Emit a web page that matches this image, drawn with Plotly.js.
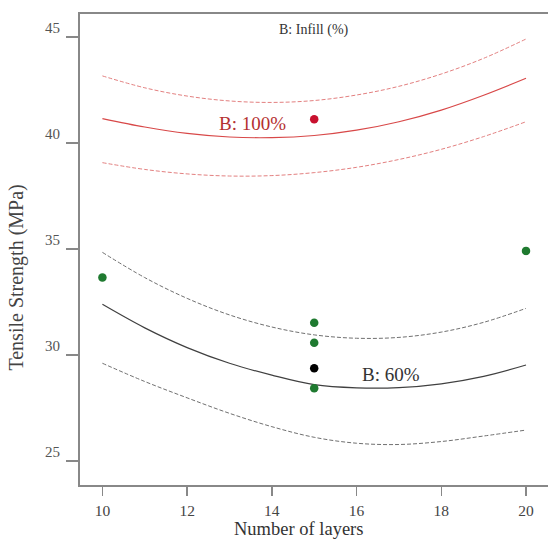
<!DOCTYPE html>
<html>
<head>
<meta charset="utf-8">
<script src="https://cdn.plot.ly/plotly-3.0.1.min.js"></script>
<style>html,body{margin:0;padding:0;background:#fff;}#chart{width:548px;height:541px;}</style>
</head>
<body>
<div id="chart"></div>
<script>
// Number of layers (x) for the model curves
const layers = [10, 11, 12, 13, 14, 15, 16, 17, 18, 19, 20];

// B: 100% infill – predicted mean and 95% CI bands
const mean100  = [41.15, 40.75, 40.45, 40.28, 40.25, 40.35, 40.60, 41.00, 41.55, 42.25, 43.05];
const upper100 = [43.16, 42.60, 42.21, 41.98, 41.91, 42.00, 42.26, 42.67, 43.25, 43.99, 44.90];
const lower100 = [39.07, 38.75, 38.54, 38.44, 38.46, 38.60, 38.85, 39.22, 39.70, 40.30, 41.00];

// B: 60% infill – predicted mean and 95% CI bands
const mean60  = [32.39, 31.28, 30.35, 29.61, 29.05, 28.60, 28.45, 28.46, 28.64, 28.99, 29.53];
const upper60 = [34.84, 33.65, 32.67, 31.89, 31.32, 30.95, 30.79, 30.83, 31.08, 31.54, 32.20];
const lower60 = [29.61, 28.75, 27.98, 27.25, 26.62, 26.12, 25.84, 25.78, 25.92, 26.18, 26.46];

// Observed design points
const greenX = [10, 15, 15, 15, 20];
const greenY = [33.65, 31.52, 30.58, 28.43, 34.91];
const redX = [15];
const redY = [41.12];
const blackX = [15];
const blackY = [29.37];

// Text labels
const xTickVals = [10, 12, 14, 16, 18, 20];
const yTickVals = [25, 30, 35, 40, 45];
const labelTitleTop = "B: Infill (%)";
const label100 = "B: 100%";
const label60 = "B: 60%";
const xTitle = "Number of layers";
const yTitle = "Tensile Strength (MPa)";

const serif = "Liberation Serif, Times New Roman, serif";
const dashed = "4px,2px";

const traces = [
  {x: layers, y: upper100, mode: "lines", line: {color: "#e38080", width: 1, dash: dashed, shape: "spline"}, hoverinfo: "skip"},
  {x: layers, y: mean100,  mode: "lines", line: {color: "#d84848", width: 1.2, shape: "spline"}, hoverinfo: "skip"},
  {x: layers, y: lower100, mode: "lines", line: {color: "#e38080", width: 1, dash: dashed, shape: "spline"}, hoverinfo: "skip"},
  {x: layers, y: upper60, mode: "lines", line: {color: "#707070", width: 1, dash: dashed, shape: "spline"}, hoverinfo: "skip"},
  {x: layers, y: mean60,  mode: "lines", line: {color: "#404040", width: 1.2, shape: "spline"}, hoverinfo: "skip"},
  {x: layers, y: lower60, mode: "lines", line: {color: "#707070", width: 1, dash: dashed, shape: "spline"}, hoverinfo: "skip"},
  {x: greenX, y: greenY, mode: "markers", marker: {color: "#1f7a30", size: 8.5}},
  {x: redX, y: redY, mode: "markers", marker: {color: "#c8102e", size: 8.5}},
  {x: blackX, y: blackY, mode: "markers", marker: {color: "#000000", size: 8.5}}
];

const layout = {
  width: 548, height: 541,
  margin: {l: 80, r: 0, t: 14, b: 56},
  paper_bgcolor: "#ffffff", plot_bgcolor: "#ffffff",
  showlegend: false,
  font: {family: serif, color: "#444"},
  xaxis: {
    range: [9.471, 20.519],
    tickvals: xTickVals,
    ticks: "outside", ticklen: 9, tickwidth: 1.5, tickcolor: "#888",
    showline: true, linecolor: "#888", linewidth: 2, mirror: true,
    showgrid: false, zeroline: false,
    ticklabelstandoff: 1,
    tickfont: {family: serif, size: 15.5, color: "#444"}
  },
  yaxis: {
    range: [23.87, 46.08],
    tickvals: yTickVals,
    ticks: "outside", ticklen: 12, tickwidth: 1.5, tickcolor: "#888",
    showline: true, linecolor: "#888", linewidth: 2, mirror: false,
    showgrid: false, zeroline: false,
    ticklabelshift: -9,
    ticklabelstandoff: 3,
    tickfont: {family: serif, size: 15, color: "#555"}
  },
  annotations: [
    {text: xTitle, xref: "paper", yref: "paper", x: 0.466, y: -0.1168,
     xanchor: "center", yanchor: "bottom", showarrow: false, borderpad: 0,
     font: {family: serif, size: 18.5, color: "#333"}},
    {text: yTitle, textangle: -90, xref: "paper", yref: "paper", x: -0.135, y: 0.44,
     xanchor: "center", yanchor: "middle", showarrow: false,
     font: {family: serif, size: 20, color: "#444"}},
    {text: labelTitleTop, xref: "x", yref: "paper", x: 15, y: 0.966, xanchor: "center", yanchor: "middle",
     showarrow: false, font: {family: serif, size: 14, color: "#333"}},
    {text: label100, xref: "x", yref: "y", x: 13.55, y: 40.93, xanchor: "center", yanchor: "middle",
     showarrow: false, font: {family: serif, size: 19, color: "#b43030"}},
    {text: label60, xref: "x", yref: "y", x: 16.82, y: 29.09, xanchor: "center", yanchor: "middle",
     showarrow: false, font: {family: serif, size: 19, color: "#333"}}
  ]
};

Plotly.newPlot("chart", traces, layout, {staticPlot: true, displayModeBar: false});
</script>
</body>
</html>
